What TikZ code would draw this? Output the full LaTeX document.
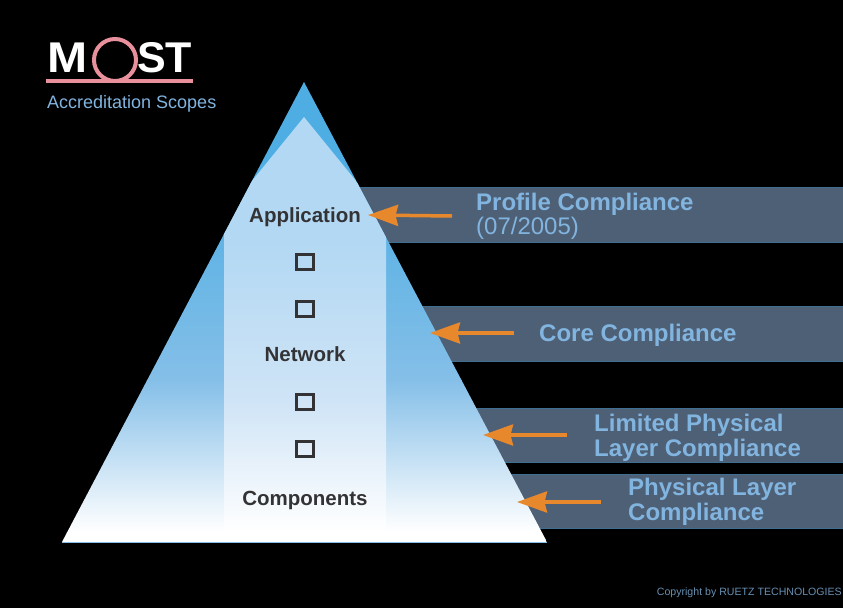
\documentclass[tikz,border=0pt]{standalone}
\usepackage{fontspec}
\setmainfont{Liberation Sans}
\usetikzlibrary{arrows.meta}
\definecolor{barc}{HTML}{4E6075}
\definecolor{barl}{HTML}{3F6E93}
\definecolor{bart}{HTML}{82B4E0}
\definecolor{arr}{HTML}{E8882C}
\definecolor{dark}{HTML}{333336}
\definecolor{pinkc}{HTML}{E8909C}
\definecolor{pyrtop}{HTML}{4EAEE4}
\definecolor{pyrmid}{HTML}{85BFE8}
\definecolor{coltop}{HTML}{B2D8F3}
\definecolor{colmid}{HTML}{CFE4F6}
\tikzset{
  x=1pt,y=-1pt,
  barbox/.style={fill=barc,draw=barl,line width=0.8pt},
  bartext/.style={text=bart,font=\bfseries\fontsize{24}{27}\selectfont,anchor=west,inner sep=0pt},
  stacklabel/.style={text=dark,font=\bfseries\fontsize{20.5}{23}\selectfont,inner sep=0pt},
  sqbox/.style={draw=dark,line width=2.5pt,minimum width=17pt,minimum height=15pt,inner sep=0pt},
  pointer/.style={draw=arr,line width=3.5pt,-{Stealth[length=30pt,width=21pt,inset=2.5pt]}},
  logotext/.style={anchor=base west,inner sep=0pt,text=white,font=\bfseries\fontsize{43}{43}\selectfont},
}
\begin{document}
\begin{tikzpicture}
\useasboundingbox (0,0) rectangle (843,608);
\fill[black] (0,0) rectangle (843,608);
% bars
\path[barbox] (340,187) rectangle (844,242);
\path[barbox] (400,306) rectangle (844,361);
\path[barbox] (440,408) rectangle (844,462);
\path[barbox] (480,474) rectangle (844,528);
% pyramid
\begin{scope}
\clip (304,82) -- (547,542) -- (62,542) -- cycle;
\fill[pyrtop] (62,82) rectangle (547,170);
\shade[top color=pyrtop,bottom color=pyrmid] (62,170) rectangle (547,380.5);
\shade[top color=pyrmid,bottom color=white] (62,380) rectangle (547,532);
\fill[white] (62,531.5) rectangle (547,543);
\fill[coltop] (304,117) -- (400,235) -- (386,235) -- (386,240) -- (224,240) -- (224,235) -- (208,235) -- cycle;
\shade[top color=coltop,bottom color=colmid] (224,239.5) rectangle (386,400.5);
\shade[top color=colmid,bottom color=white] (224,400) rectangle (386,532);
\end{scope}
\draw[pyrmid,line width=0.8pt] (62,542) -- (547,542);
\node[stacklabel] (app) at (305,217) {Application};
\node[stacklabel] (net) at (305,354.5) {Network};
\node[stacklabel] (comp) at (305,500) {Components};
\node[sqbox] (s1) at (305,262) {};
\node[sqbox] (s2) at (305,309) {};
\node[sqbox] (s3) at (305,402) {};
\node[sqbox] (s4) at (305,449) {};
% bar labels
\node[bartext] (p1) at (476,204) {Profile Compliance};
\node[bartext,font=\fontsize{24}{27}\selectfont] (p1b) at (476,228) {(07/2005)};
\node[bartext] (p2) at (539,335) {Core Compliance};
\node[bartext] (p3) at (594,425) {Limited Physical};
\node[bartext] (p3b) at (594,450) {Layer Compliance};
\node[bartext] (p4) at (628,489) {Physical Layer};
\node[bartext] (p4b) at (628,514) {Compliance};
% arrows
\coordinate (a1) at (452,216); \coordinate (t1) at (368,215);
\coordinate (a2) at (514,333); \coordinate (t2) at (430,333);
\coordinate (a3) at (567,435); \coordinate (t3) at (483,435);
\coordinate (a4) at (601,502); \coordinate (t4) at (517,502);
\draw[pointer] (a1) -- (t1);
\draw[pointer] (a2) -- (t2);
\draw[pointer] (a3) -- (t3);
\draw[pointer] (a4) -- (t4);
% logo
\node[logotext,xscale=1.12] (lm) at (47,72) {M};
\node[logotext] (ls) at (137,72) {ST};
\draw[pinkc,line width=4pt] (46,81) -- (193,81);
\draw[pinkc,line width=4pt] (115,60) circle[radius=21];
\node[anchor=west,inner sep=0pt,text=bart,font=\fontsize{18}{20}\selectfont] (sub) at (47,104) {Accreditation Scopes};
\node[anchor=east,inner sep=0pt,text=bart!80!black,font=\fontsize{10.6}{12}\selectfont] (cr) at (842,593) {Copyright by RUETZ TECHNOLOGIES};
\end{tikzpicture}
\end{document}
